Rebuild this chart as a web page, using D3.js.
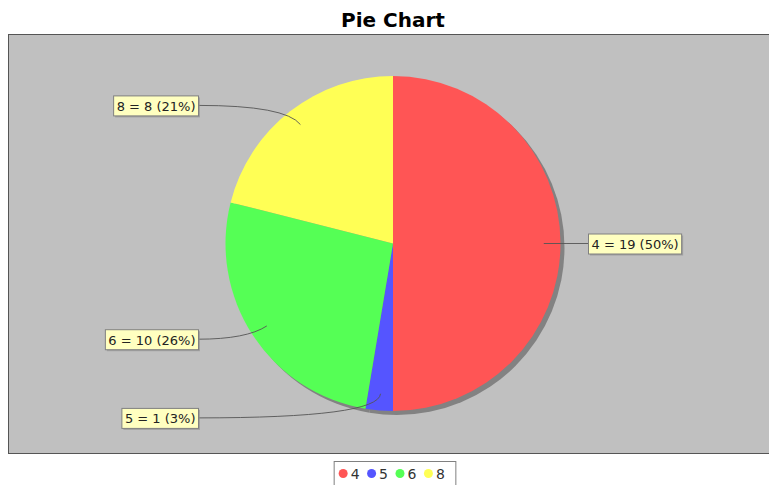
<!DOCTYPE html>
<html>
<head>
<meta charset="utf-8">
<script src="https://cdn.jsdelivr.net/npm/d3@7"></script>
<style>
  body { margin: 0; background: #fff; }
  text { font-family: "DejaVu Sans", sans-serif; }
</style>
</head>
<body>
<div id="chart"></div>
<script>
// Sample data
const categories = ["4", "5", "6", "8"];
const values = [19, 1, 10, 8];
const title = "Pie Chart";

function createPieChart(selector) {
  // Chart dimensions
  const width = 769;
  const height = 485;
  const plot = { x: 8, y: 34, w: 770, h: 419 };
  const cx = 393;
  const cy = 243.5;
  const radius = 167.5;
  const linkRadius = 175;
  const labelGap = 20;

  const total = d3.sum(values);

  const color = d3.scaleOrdinal()
    .domain(categories)
    .range(["#ff5555", "#5555ff", "#55ff55", "#ffff55"]);

  const svg = d3.select(selector)
    .append("svg")
    .attr("width", width)
    .attr("height", height);

  // Title
  svg.append("text")
    .attr("x", cx)
    .attr("y", 27)
    .attr("text-anchor", "middle")
    .attr("font-size", 20)
    .attr("font-weight", "bold")
    .text(title);

  // Plot background
  svg.append("rect")
    .attr("x", plot.x + 0.5)
    .attr("y", plot.y + 0.5)
    .attr("width", plot.w)
    .attr("height", plot.h)
    .attr("fill", "#c0c0c0")
    .attr("stroke", "#555")
    .attr("stroke-width", 1);

  const data = categories.map((c, i) => ({ category: c, value: values[i] }));

  const pie = d3.pie()
    .sort(null)
    .value(d => d.value);

  const arcs = pie(data);

  const arc = d3.arc()
    .innerRadius(0)
    .outerRadius(radius);

  // Shadow
  svg.append("g")
    .attr("transform", `translate(${cx + 4},${cy + 4})`)
    .selectAll("path")
    .data(arcs)
    .join("path")
    .attr("fill", "#828282")
    .attr("d", arc);

  // Slices
  svg.append("g")
    .attr("transform", `translate(${cx},${cy})`)
    .selectAll("path")
    .data(arcs)
    .join("path")
    .attr("fill", d => color(d.data.category))
    .attr("d", arc);

  // Labels and link curves
  const labels = svg.append("g");
  arcs.forEach(d => {
    const a = (d.startAngle + d.endAngle) / 2;
    const sx = Math.sin(a), sy = -Math.cos(a);
    const link = [cx + sx * radius * 0.9, cy + sy * radius * 0.9];
    const elbow = [cx + sx * linkRadius, cy + sy * linkRadius];
    const right = sx >= 0;
    const tx = right ? cx + linkRadius + labelGap : cx - linkRadius - labelGap;
    const ty = elbow[1];

    const p = d3.path();
    p.moveTo(link[0], link[1]);
    p.quadraticCurveTo(elbow[0], elbow[1], tx, ty);
    labels.append("path")
      .attr("d", p.toString())
      .attr("fill", "none")
      .attr("stroke", "#555")
      .attr("stroke-width", 0.9);

    const pct = Math.round(d.data.value / total * 100);
    const g = labels.append("g");
    const shadow = g.append("rect");
    const box = g.append("rect");
    const t = g.append("text")
      .attr("font-size", 13)
      .attr("fill", "#222")
      .text(`${d.data.category} = ${d.data.value} (${pct}%)`);
    const tw = t.node().getComputedTextLength();
    const bw = tw + 6, bh = 20;
    const bx = right ? tx : tx - bw;
    const by = ty - bh / 2;
    shadow.attr("x", bx + 2).attr("y", by + 2).attr("width", bw).attr("height", bh)
      .attr("fill", "rgba(140,140,140,0.6)");
    box.attr("x", bx + 0.5).attr("y", by + 0.5).attr("width", bw).attr("height", bh)
      .attr("fill", "#ffffc0")
      .attr("stroke", "#808080")
      .attr("stroke-width", 1);
    t.attr("x", bx + 3.5).attr("y", by + 15.5);
  });

  // Legend
  const legend = svg.append("g");
  const items = categories.map(c => {
    const t = legend.append("text")
      .attr("font-size", 14)
      .attr("fill", "#333")
      .text(c);
    return { c, t, w: t.node().getComputedTextLength() };
  });
  const itemW = items.map(it => 14 + it.w + 5.5);
  const legendW = d3.sum(itemW) + 8;
  const lx = 394.5 - legendW / 2;
  const ly = 461;
  legend.insert("rect", "text")
    .attr("x", lx + 0.5)
    .attr("y", ly + 0.5)
    .attr("width", legendW)
    .attr("height", 26)
    .attr("fill", "#fff")
    .attr("stroke", "#808080");
  let x = lx + 5;
  items.forEach((it, i) => {
    legend.append("circle")
      .attr("cx", x + 4.5)
      .attr("cy", ly + 12.5)
      .attr("r", 4.5)
      .attr("fill", color(it.c));
    it.t.attr("x", x + 12).attr("y", ly + 18);
    x += itemW[i];
  });
}

createPieChart("#chart");
</script>
</body>
</html>
